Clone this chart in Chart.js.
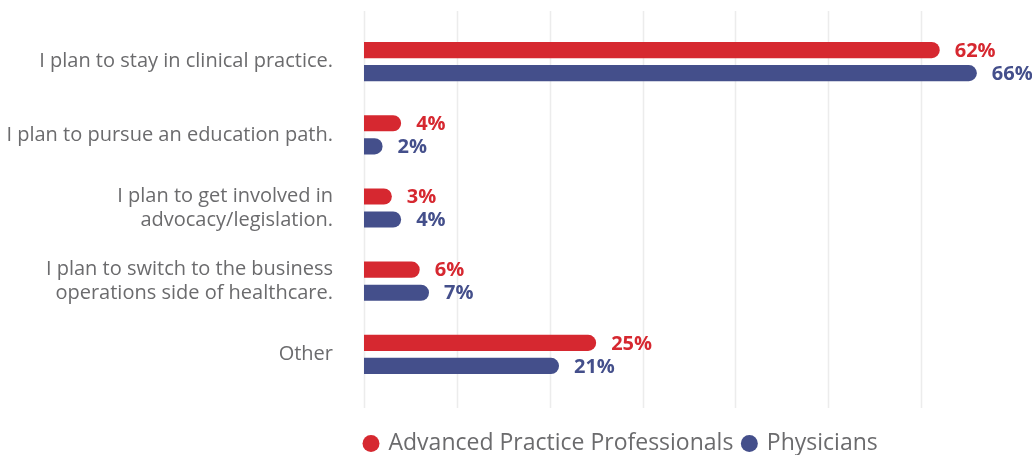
<!DOCTYPE html>
<html>
<head>
<meta charset="utf-8">
<script src="https://cdn.jsdelivr.net/npm/chart.js@4.4.1/dist/chart.umd.min.js"></script>
<style>
  html, body { margin: 0; padding: 0; background: #fff; }
  #wrap { width: 1032px; height: 455px; }
</style>
</head>
<body>
<div id="wrap"><canvas id="plans"></canvas></div>
<script>
// survey answers
var categories = [
	'I plan to stay in clinical practice.',
	'I plan to pursue an education path.',
	['I plan to get involved in', 'advocacy/legislation.'],
	['I plan to switch to the business', 'operations side of healthcare.'],
	'Other'
];
var appValues = [62, 4, 3, 6, 25];
var physValues = [66, 2, 4, 7, 21];
var seriesNames = ['Advanced Practice Professionals', 'Physicians'];
var gridTicks = [0, 10, 20, 30, 40, 50, 60];

var RED = '#d62830';
var BLUE = '#444f8b';
var GREY = '#6b6b6d';
var FONT = '"Open Sans", "Noto Sans", sans-serif';

// vertical grid lines, a bit taller than the plot area
var gridPlugin = {
	id: 'tallGrid',
	beforeDatasetsDraw: function (chart) {
		var ctx = chart.ctx;
		var x = chart.scales.x;
		var area = chart.chartArea;
		ctx.save();
		ctx.strokeStyle = '#ececec';
		ctx.lineWidth = 1.5;
		gridTicks.forEach(function (v) {
			var px = Math.round(x.getPixelForValue(v)) + 0.5;
			ctx.beginPath();
			ctx.moveTo(px, area.top - 14);
			ctx.lineTo(px, area.bottom + 17);
			ctx.stroke();
		});
		ctx.restore();
	}
};

// percentage labels after each bar
var valueLabels = {
	id: 'valueLabels',
	afterDatasetsDraw: function (chart) {
		var ctx = chart.ctx;
		ctx.save();
		ctx.font = 'bold 20px ' + FONT;
		ctx.textAlign = 'left';
		ctx.textBaseline = 'middle';
		chart.data.datasets.forEach(function (ds, i) {
			var meta = chart.getDatasetMeta(i);
			ctx.fillStyle = ds.backgroundColor;
			meta.data.forEach(function (bar, j) {
				ctx.fillText(ds.data[j] + '%', bar.x + 15, bar.y + 1);
			});
		});
		ctx.restore();
	}
};

// legend starts right at the axis line
var legendNudge = {
	id: 'legendNudge',
	afterLayout: function (chart) {
		if (chart.legend) {
			chart.legend.left -= 9;
			chart.legend.right -= 9;
		}
	}
};

var config = {
	type: 'bar',
	data: {
		labels: categories,
		datasets: [{
			label: seriesNames[0],
			data: appValues,
			backgroundColor: RED,
			borderRadius: 8,
			borderSkipped: 'start',
			categoryPercentage: 0.63,
			barPercentage: 0.7
		}, {
			label: seriesNames[1],
			data: physValues,
			backgroundColor: BLUE,
			borderRadius: 8,
			borderSkipped: 'start',
			categoryPercentage: 0.63,
			barPercentage: 0.7
		}]
	},
	options: {
		indexAxis: 'y',
		responsive: true,
		maintainAspectRatio: false,
		animation: false,
		layout: {
			padding: { top: 25, right: 18, left: 0, bottom: -10 }
		},
		scales: {
			x: {
				min: 0,
				max: 70,
				ticks: { display: false, stepSize: 10 },
				grid: { display: false },
				border: { display: false },
				afterFit: function (scale) { scale.height = 31; }
			},
			y: {
				grid: { display: false, drawTicks: false },
				border: { display: false },
				afterFit: function (scale) {
					scale.width = 364;
					scale.paddingTop = 0;
					scale.paddingBottom = 0;
				},
				ticks: {
					color: GREY,
					padding: 31,
					font: { family: FONT, size: 20 }
				}
			}
		},
		plugins: {
			tooltip: { enabled: false },
			legend: {
				position: 'bottom',
				align: 'start',
				fullSize: false,
				labels: {
					usePointStyle: true,
					pointStyle: 'circle',
					boxWidth: 12,
					boxHeight: 12,
					padding: 10,
					color: GREY,
					font: { family: FONT, size: 23 }
				}
			}
		}
	},
	plugins: [gridPlugin, valueLabels, legendNudge]
};

var ctx = document.getElementById('plans').getContext('2d');
var chart = new Chart(ctx, config);
</script>
</body>
</html>
